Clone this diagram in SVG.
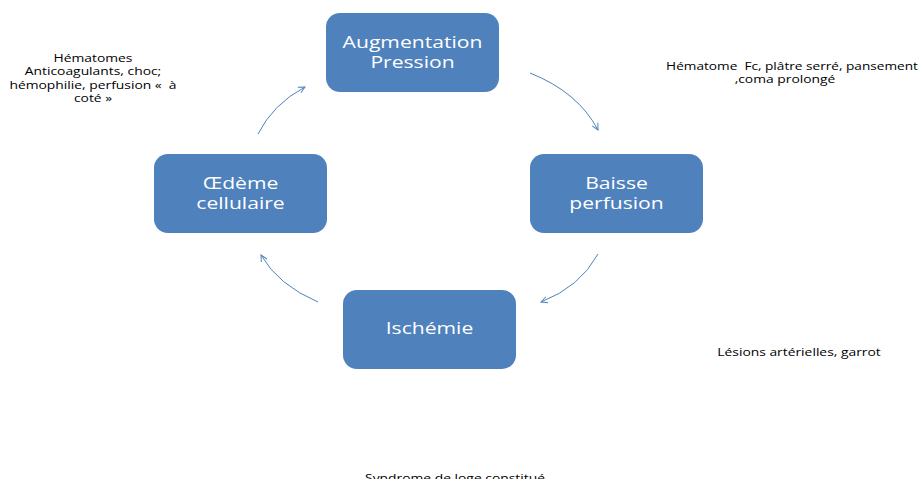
<svg xmlns="http://www.w3.org/2000/svg" width="923" height="479" viewBox="0 0 923 479">
<style>
.box{fill:#4F81BD;}
.bt{font-family:"Open Sans","Liberation Sans",sans-serif;font-size:16px;fill:#fff;text-anchor:middle;}
.lb{font-family:"Open Sans","Liberation Sans",sans-serif;font-size:10.5px;fill:#000;text-anchor:middle;white-space:pre;}
.arc{fill:none;stroke:#4F81BD;stroke-width:1;marker-end:url(#ah);}
</style>
<defs>
<marker id="ah" viewBox="0 0 10 10" refX="9" refY="5" markerWidth="8" markerHeight="8" orient="auto" markerUnits="userSpaceOnUse">
<path d="M1,1 L9,5 L1,9" fill="none" stroke="#4F81BD" stroke-width="1.2"/>
</marker>
</defs>
<rect width="923" height="479" fill="#fff"/>
<g id="n-augmentation">
<rect class="box" x="326" y="13" width="173" height="79" rx="14"/>
<text class="bt" transform="translate(412.5,48) scale(1.32,1)">Augmentation</text>
<text class="bt" transform="translate(412.5,68) scale(1.32,1)">Pression</text>
</g>
<g id="n-baisse">
<rect class="box" x="530" y="154" width="173" height="79" rx="14"/>
<text class="bt" transform="translate(616.5,189) scale(1.32,1)">Baisse</text>
<text class="bt" transform="translate(616.5,209) scale(1.32,1)">perfusion</text>
</g>
<g id="n-ischemie">
<rect class="box" x="343" y="290" width="173" height="79" rx="14"/>
<text class="bt" transform="translate(429.5,334) scale(1.32,1)">Ischémie</text>
</g>
<g id="n-oedeme">
<rect class="box" x="154" y="154" width="173" height="79" rx="14"/>
<text class="bt" transform="translate(240.5,189) scale(1.32,1)">Œdème</text>
<text class="bt" transform="translate(240.5,209) scale(1.32,1)">cellulaire</text>
</g>
<g id="connectors">
<path class="arc" d="M530,73 Q578,92 598,130"/>
<path class="arc" d="M598,254 Q580,287 541,302"/>
<path class="arc" d="M318,302 Q278,285 261,255"/>
<path class="arc" d="M258,134 Q273,104 305,87"/>
</g>
<g id="labels">
<text class="lb" transform="translate(93,62) scale(1.32,1)">Hématomes</text>
<text class="lb" transform="translate(93,75) scale(1.32,1)">Anticoagulants, choc;</text>
<text class="lb" transform="translate(93,89) scale(1.32,1)">hémophilie, perfusion «  à</text>
<text class="lb" transform="translate(93,102) scale(1.32,1)">coté »</text>
<text class="lb" transform="translate(792,70) scale(1.3,1)">Hématome  Fc, plâtre serré, pansement</text>
<text class="lb" transform="translate(785,83) scale(1.32,1)">,coma prolongé</text>
<text class="lb" transform="translate(799,356) scale(1.32,1)">Lésions artérielles, garrot</text>
<text class="lb" transform="translate(455,482) scale(1.32,1)">Syndrome de loge constitué</text>
</g>
</svg>
